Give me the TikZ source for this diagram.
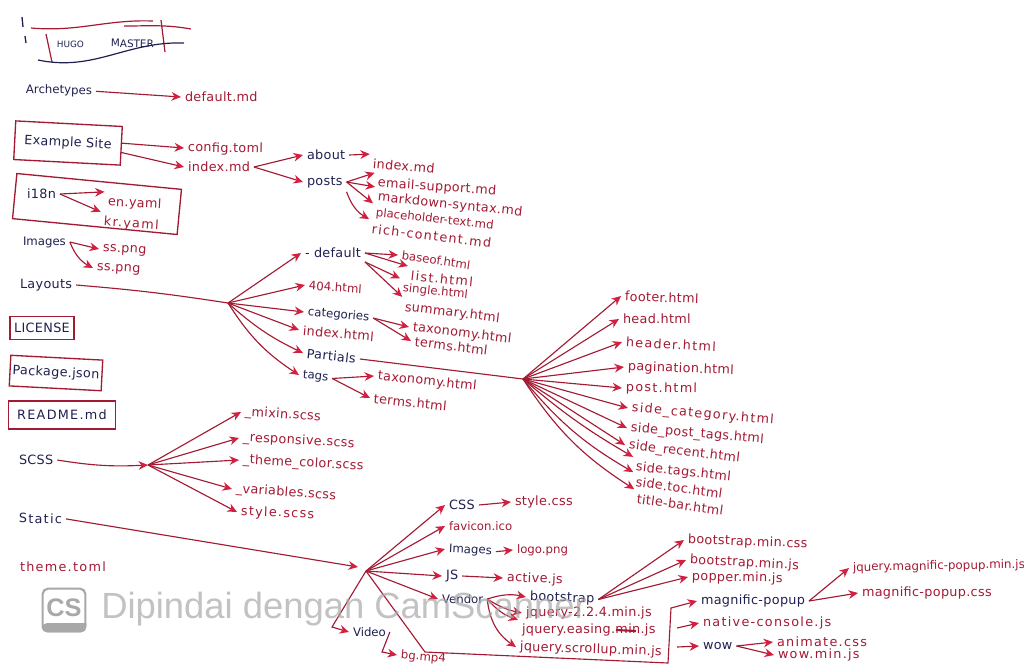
\documentclass[tikz,border=0pt]{standalone}
\usepackage{fontspec}
\setmainfont{DejaVu Sans}
\newfontfamily\scanfont{Liberation Sans}
\usepackage{xcolor}
\usetikzlibrary{arrows.meta}
\definecolor{inkred}{HTML}{A31A33}
\definecolor{headred}{HTML}{D41F3F}
\definecolor{inknavy}{HTML}{1F2050}
\definecolor{scanmark}{HTML}{A8A8A8}
\tikzset{
  lbl/.style    ={anchor=west, inner sep=0pt, outer sep=3pt, xshift=-3pt, font=\fontsize{9.6}{12}\selectfont\addfontfeature{LetterSpace=2.5}},
  dirn/.style   ={lbl, text=inknavy},
  file/.style   ={lbl, text=inkred},
  tight/.style  ={font=\fontsize{8.8}{11}\selectfont},
  wide/.style   ={font=\fontsize{9.6}{12}\selectfont\addfontfeature{LetterSpace=10}},
  bx/.style     ={draw=inkred, line width=1pt, inner sep=0pt, outer sep=0pt, xshift=3pt, anchor=center},
  arr/.style    ={-{Stealth[length=2.5mm, width=2.3mm, color=headred]}, line width=.85pt, draw=inkred},
  lin/.style    ={line width=.85pt, draw=inkred},
}
\begin{document}
\begin{tikzpicture}[x=.75pt, y=-.75pt]
  \useasboundingbox (0,0) rectangle (1024,669);

  % ---- title scribble ----
  \draw[inkred, line width=.9pt] (31,28) to[out=-5, in=178] (153,21);
  \draw[inkred, line width=.9pt] (124,26) to[out=0, in=170] (191,29);
  \draw[inkred, line width=.9pt] (46,34) -- (52,62);
  \draw[inkred, line width=.9pt] (161,20) -- (165,52);
  \draw[inknavy, line width=.9pt] (38,60) to[out=-12, in=178] (184,43);
  \draw[inknavy, line width=1pt] (22,17) -- (23,27) (25,36) -- (26,43);
  \node[dirn, font=\fontsize{6.6}{8}\selectfont, rotate=-1] (hugo) at (57,44) {HUGO};
  \node[dirn, font=\fontsize{7.8}{9}\selectfont, rotate=-1] (master) at (111,43) {MASTER};

  % ---- archetypes ----
  \node[dirn, tight, rotate=-1] (arch) at (26,90) {Archetypes};
  \node[file] (defmd) at (185,97) {default.md};
  \draw[arr] (arch.east) -- (defmd.west);

  % ---- example site ----
  \node[dirn, bx, minimum width=80pt, minimum height=29pt, rotate=-3] (exsite) at (68,143) {Example Site};
  \node[file, rotate=-1] (config) at (188,148) {config.toml};
  \node[file] (exindex) at (188,167) {index.md};
  \node[dirn] (about) at (307,155) {about};
  \node[dirn] (posts) at (307,182) {posts};
  \node[file, rotate=-5] (abindex) at (373,163) {index.md};
  \node[file, rotate=-4] (email) at (378,183) {email-support.md};
  \node[file, rotate=-6] (markdn) at (378,197) {markdown-syntax.md};
  \node[file, tight, rotate=-6] (placeh) at (376,213) {placeholder-text.md};
  \node[file, wide, rotate=-7] (rich) at (372,228) {rich-content.md};
  \draw[arr] ([yshift=2pt]exsite.east) -- (config.west);
  \draw[arr] ([yshift=-5pt]exsite.east) -- (exindex.west);
  \draw[arr] (exindex.east) -- (about.west);
  \draw[arr] (exindex.east) -- (posts.west);
  \draw[arr] (about.east) -- (abindex.north west);
  \draw[arr] (posts.east) -- (email.north west);
  \draw[arr] (posts.east) -- (markdn.north west);
  \draw[arr] (posts.east) -- (placeh.north west);
  \draw[arr] (posts.south east) to[bend right=20] (rich.north west);

  % ---- i18n, images ----
  \node[bx, minimum width=124pt, minimum height=34pt, rotate=-5.5] (i18nbox) at (93,204) {};
  \node[dirn] (i18n) at (27,194) {i18n};
  \node[file, rotate=-3] (enyaml) at (108,202) {en.yaml};
  \node[file, wide, rotate=-4] (kryaml) at (104,222) {kr.yaml};
  \draw[arr] (i18n.east) -- (enyaml.north west);
  \draw[arr] (i18n.east) -- (kryaml.north west);
  \node[dirn, tight] (images) at (23,242) {Images};
  \node[file, rotate=-3] (ssa) at (103,249) {ss.png};
  \node[file, rotate=-3] (ssb) at (97,268) {ss.png};
  \draw[arr] (images.east) -- (ssa.west);
  \draw[arr] (images.east) to[bend right=20] (ssb.west);

  % ---- layouts ----
  \node[dirn] (layouts) at (20,285) {Layouts};
  \coordinate (jlay) at (228,303);
  \node[dirn] (default) at (305,253) {- default};
  \node[file, tight, rotate=-4] (nf) at (309,285) {404.html};
  \node[dirn, tight, rotate=-5] (categ) at (308,312) {categories};
  \node[file, rotate=-5] (layindex) at (303,330) {index.html};
  \node[dirn, rotate=-6] (partials) at (307,353) {Partials};
  \node[dirn, tight, rotate=-6] (tags) at (303,375) {tags};
  \draw[lin] (layouts.east) to[bend left=2] (jlay);
  \draw[arr] (jlay) -- (default.west);
  \draw[arr] (jlay) -- (nf.west);
  \draw[arr] (jlay) -- (categ.west);
  \draw[arr] (jlay) -- (layindex.west);
  \draw[arr] (jlay) to[bend right=8] (partials.west);
  \draw[arr] (jlay) to[bend right=12] (tags.west);

  \node[file, tight, rotate=-8] (baseof) at (402,255) {baseof.html};
  \node[file, wide, rotate=-6] (listf) at (411,275) {list.html};
  \node[file, tight, rotate=-6] (single) at (403,288) {single.html};
  \node[file, rotate=-7] (summary) at (405,307) {summary.html};
  \draw[arr] (default.east) -- (baseof.west);
  \draw[arr] (default.east) -- (listf.north west);
  \draw[arr] (default.south east) -- (single.north west);
  \draw[arr] (default.south east) -- (summary.north west);

  \node[file, rotate=-7] (taxa) at (413,327) {taxonomy.html};
  \node[file, rotate=-7] (termsa) at (415,341) {terms.html};
  \draw[arr] (categ.east) -- (taxa.west);
  \draw[arr] (categ.east) -- (termsa.west);

  \node[file, rotate=-6] (taxb) at (378,376) {taxonomy.html};
  \node[file, rotate=-6] (termsb) at (374,398) {terms.html};
  \draw[arr] (tags.east) -- (taxb.west);
  \draw[arr] (tags.east) -- (termsb.west);

  % ---- partials fan ----
  \coordinate (jpart) at (523,379);
  \node[file, rotate=-2] (footer) at (625,296) {footer.html};
  \node[file] (headf) at (623,319) {head.html};
  \node[file, wide, rotate=-3] (header) at (626,342) {header.html};
  \node[file, rotate=-2] (pagin) at (628,367) {pagination.html};
  \node[file, wide, rotate=-1] (post) at (626,388) {post.html};
  \node[file, wide, rotate=-5] (scat) at (632,408) {side\_category.html};
  \node[file, rotate=-5] (spost) at (631,428) {side\_post\_tags.html};
  \node[file, rotate=-7] (srec) at (629,445) {side\_recent.html};
  \node[file, rotate=-6] (stags) at (636,467) {side.tags.html};
  \node[file, rotate=-8] (stoc) at (636,481) {side.toc.html};
  \node[file, rotate=-8] (tbar) at (637,498) {title-bar.html};
  \draw[lin] (partials.east) -- (jpart);
  \foreach \t in {footer,headf,header,pagin,post,scat,spost,srec}
    \draw[arr] (jpart) -- (\t.west);
  \draw[arr] (jpart) to[bend right=5] (stags.north west);
  \draw[arr] (jpart) to[bend right=10] (stoc.north west);
  \draw[arr] (jpart) to[bend right=12] (tbar.north west);

  % ---- license, package, readme ----
  \node[dirn, bx, minimum width=48pt, minimum height=17pt] (license) at (42,328) {LICENSE};
  \node[dirn, bx, minimum width=69pt, minimum height=23pt, rotate=-3] (packj) at (56,373) {Package.json};
  \node[dirn, bx, wide, minimum width=80pt, minimum height=21pt] (readme) at (62,415) {README.md};

  % ---- scss ----
  \node[dirn] (scss) at (19,460) {SCSS};
  \coordinate (jscss) at (148,465);
  \node[file, rotate=-4] (mixin) at (245,412) {\_mixin.scss};
  \node[file, rotate=-3] (resp) at (243,438) {\_responsive.scss};
  \node[file, rotate=-3] (theme) at (243,460) {\_theme\_color.scss};
  \node[file, rotate=-4] (vars) at (236,489) {\_variables.scss};
  \node[file, wide, rotate=-2] (style) at (241,512) {style.scss};
  \draw[arr] (scss.east) to[bend right=6] (jscss);
  \foreach \t in {mixin,resp,theme,vars,style}
    \draw[arr] (jscss) -- (\t.west);

  % ---- static ----
  \node[dirn, wide, rotate=-1] (static) at (19,518) {Static};
  \node[file, wide] (thtoml) at (20,567) {theme.toml};
  \coordinate (jstin) at (358,567);
  \coordinate (jstat) at (366,571);
  \node[dirn] (css) at (449,505) {CSS};
  \node[file] (stcss) at (515,502) {style.css};
  \node[file, tight] (favicon) at (449,526) {favicon.ico};
  \node[dirn, tight, rotate=-3] (img) at (449,549) {Images};
  \node[file, tight] (logo) at (517,550) {logo.png};
  \node[dirn] (js) at (446,576) {JS};
  \node[file, rotate=-2] (active) at (507,578) {active.js};
  \node[dirn, tight] (vendor) at (442,599) {Vendor};
  \node[dirn, tight] (video) at (353,632) {Video};
  \node[file, tight, rotate=-5] (bgmp) at (401,655) {bg.mp4};
  \coordinate (jvid) at (332,627);
  \coordinate (jbg) at (382,652);
  \coordinate (jlow) at (425,652);
  \coordinate (jbrb) at (668,663);
  \coordinate (jbrt) at (671,608);
  \coordinate (jnat) at (677,628);
  \coordinate (jwow) at (677,647);
  \draw[arr] (static.east) -- (jstin);
  \foreach \t in {css,favicon,img,js,vendor}
    \draw[arr] (jstat) -- (\t.west);
  \draw[arr] (css.east) -- (stcss.west);
  \draw[arr] (img.east) -- (logo.west);
  \draw[arr] (js.east) -- (active.west);
  \draw[arr] (jstat) -- (jvid) -- (video.west);
  \draw[arr] (video.east) -- (jbg) -- (bgmp.west);

  % ---- vendor ----
  \node[dirn, rotate=-2] (bootst) at (530,597) {bootstrap};
  \node[file] (jqa) at (526,613) {jquery-2.2.4.min.js};
  \node[file] (jqb) at (522,630) {jquery.easing.min.js};
  \node[file, rotate=-2] (jqc) at (520,647) {jquery.scrollup.min.js};
  \draw[arr] (vendor.east) to[bend left=15] (bootst.west);
  \draw[arr] (vendor.east) to[bend right=10] (jqa.west);
  \draw[arr] (vendor.east) to[bend right=15] (jqb.north west);
  \draw[arr] (vendor.east) to[bend right=25] (jqc.west);
  \draw[inkred, line width=1.6pt] (616,630) -- (636,631);

  \node[file, rotate=-2] (bsa) at (688,540) {bootstrap.min.css};
  \node[file, rotate=-3] (bsb) at (690,560) {bootstrap.min.js};
  \node[file, rotate=-1] (popper) at (692,577) {popper.min.js};
  \draw[arr] (bootst.east) -- (bsa.west);
  \draw[arr] (bootst.east) -- (bsb.west);
  \draw[arr] (bootst.east) -- (popper.west);

  % ---- lower bracket ----
  \node[dirn] (magp) at (701,601) {magnific-popup};
  \node[file, wide] (native) at (703,623) {native-console.js};
  \node[dirn] (wow) at (703,646) {wow};
  \node[file, wide] (anim) at (777,642) {animate.css};
  \node[file, wide] (wowm) at (778,655) {wow.min.js};
  \node[file, font=\fontsize{8.9}{10}\selectfont, rotate=1] (jqmag) at (853,568) {jquery.magnific-popup.min.js};
  \node[file] (magcss) at (862,593) {magnific-popup.css};
  \draw[arr] (jstat) -- (jlow) -- (jbrb) -- (jbrt) -- (magp.west);
  \draw[arr] (jnat) -- (native.west);
  \draw[arr] (jwow) -- (wow.west);
  \draw[arr] (wow.east) -- (anim.west);
  \draw[arr] (wow.east) -- (wowm.west);
  \draw[arr] (magp.east) -- (jqmag.west);
  \draw[arr] (magp.east) -- (magcss.west);

  % ---- scanner mark ----
  \node[draw=scanmark, line width=1.6pt, fill=white, rounded corners=4pt, minimum size=32pt, inner sep=0pt,
        text=scanmark, font=\scanfont\fontsize{19}{20}\bfseries\selectfont] (cslogo) at (64,610) {\raisebox{3pt}{CS}};
  \fill[scanmark] ([yshift=7pt]cslogo.south west) -- ([yshift=7pt]cslogo.south east)
    [rounded corners=4pt] -- (cslogo.south east) -- (cslogo.south west) -- cycle;
  \node[anchor=west, inner sep=0pt, opacity=.7, text=scanmark, font=\scanfont\fontsize{27.3}{30}\selectfont] (scantxt) at (101,609)
    {Dipindai dengan CamScanner};
\end{tikzpicture}
\end{document}
